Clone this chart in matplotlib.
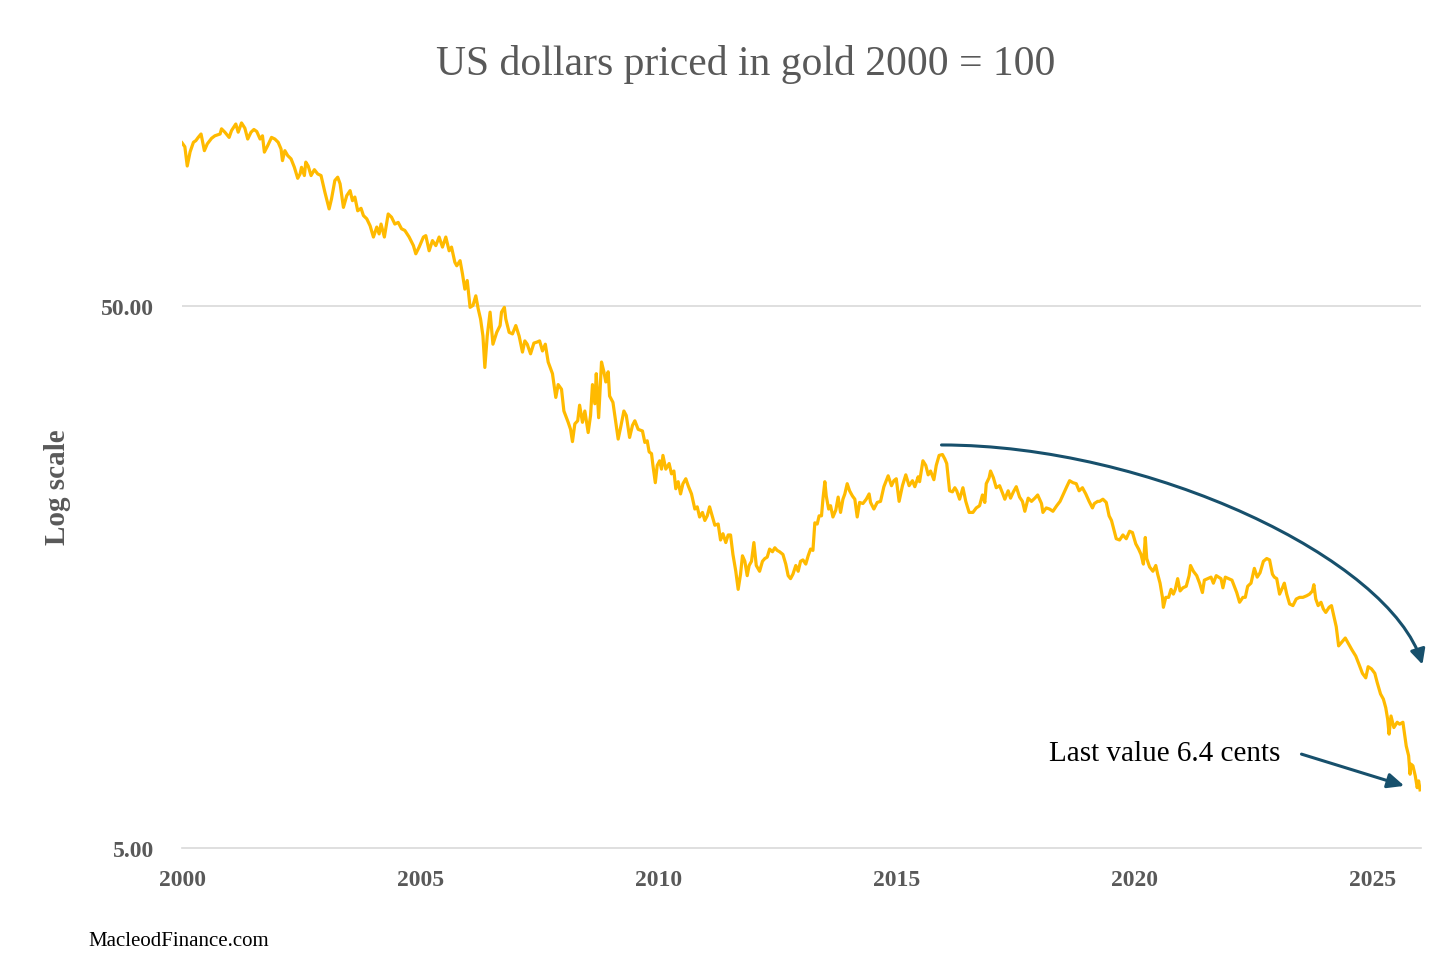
import matplotlib
matplotlib.use("Agg")
import matplotlib.pyplot as plt
from matplotlib.path import Path
from matplotlib.patches import FancyArrowPatch
from matplotlib.ticker import FixedLocator, FixedFormatter

# ---------------- data ----------------
years = [
    2000.00, 2000.06, 2000.11, 2000.17, 2000.24, 2000.29, 2000.34, 2000.40, 2000.47, 2000.53,
    2000.62, 2000.69, 2000.80, 2000.83, 2000.90, 2000.99, 2001.04, 2001.13, 2001.18, 2001.25,
    2001.32, 2001.38, 2001.45, 2001.51, 2001.57, 2001.64, 2001.69, 2001.73, 2001.80, 2001.88,
    2001.95, 2002.02, 2002.08, 2002.11, 2002.16, 2002.22, 2002.29, 2002.36, 2002.43, 2002.48,
    2002.51, 2002.57, 2002.60, 2002.65, 2002.71, 2002.78, 2002.85, 2002.92, 2003.00, 2003.09,
    2003.14, 2003.21, 2003.27, 2003.32, 2003.39, 2003.46, 2003.53, 2003.58, 2003.63, 2003.69,
    2003.76, 2003.81, 2003.88, 2003.95, 2004.02, 2004.09, 2004.14, 2004.18, 2004.25, 2004.33,
    2004.40, 2004.47, 2004.54, 2004.61, 2004.68, 2004.77, 2004.86, 2004.91, 2004.98, 2005.07,
    2005.12, 2005.19, 2005.26, 2005.33, 2005.40, 2005.47, 2005.54, 2005.61, 2005.66, 2005.73,
    2005.77, 2005.84, 2005.89, 2005.94, 2005.99, 2006.05, 2006.11, 2006.17, 2006.22, 2006.27,
    2006.32, 2006.36, 2006.41, 2006.47, 2006.53, 2006.61, 2006.68, 2006.71, 2006.77, 2006.80,
    2006.87, 2006.94, 2007.01, 2007.08, 2007.15, 2007.20, 2007.25, 2007.32, 2007.39, 2007.46,
    2007.51, 2007.57, 2007.63, 2007.69, 2007.78, 2007.85, 2007.90, 2007.97, 2008.02, 2008.11,
    2008.16, 2008.20, 2008.25, 2008.31, 2008.35, 2008.41, 2008.46, 2008.53, 2008.58, 2008.62,
    2008.67, 2008.70, 2008.75, 2008.81, 2008.86, 2008.90, 2008.95, 2008.98, 2009.05, 2009.12,
    2009.16, 2009.21, 2009.28, 2009.33, 2009.40, 2009.46, 2009.51, 2009.58, 2009.67, 2009.72,
    2009.77, 2009.81, 2009.86, 2009.89, 2009.94, 2009.98, 2010.03, 2010.07, 2010.10, 2010.16,
    2010.23, 2010.28, 2010.33, 2010.37, 2010.42, 2010.47, 2010.52, 2010.58, 2010.63, 2010.70,
    2010.77, 2010.82, 2010.87, 2010.93, 2010.98, 2011.03, 2011.08, 2011.14, 2011.19, 2011.26,
    2011.31, 2011.36, 2011.42, 2011.47, 2011.52, 2011.57, 2011.63, 2011.68, 2011.73, 2011.77,
    2011.82, 2011.87, 2011.91, 2011.96, 2012.01, 2012.06, 2012.13, 2012.19, 2012.24, 2012.29,
    2012.34, 2012.40, 2012.45, 2012.50, 2012.55, 2012.62, 2012.68, 2012.73, 2012.78, 2012.83,
    2012.89, 2012.94, 2012.99, 2013.04, 2013.10, 2013.15, 2013.20, 2013.25, 2013.29, 2013.34,
    2013.38, 2013.43, 2013.46, 2013.50, 2013.53, 2013.58, 2013.62, 2013.67, 2013.73, 2013.78,
    2013.83, 2013.88, 2013.92, 2013.97, 2014.02, 2014.08, 2014.13, 2014.18, 2014.23, 2014.30,
    2014.37, 2014.43, 2014.46, 2014.53, 2014.60, 2014.67, 2014.74, 2014.83, 2014.90, 2014.95,
    2015.00, 2015.06, 2015.13, 2015.20, 2015.27, 2015.34, 2015.39, 2015.46, 2015.49, 2015.56,
    2015.62, 2015.67, 2015.72, 2015.79, 2015.84, 2015.90, 2015.97, 2016.02, 2016.06, 2016.12,
    2016.18, 2016.23, 2016.27, 2016.33, 2016.40, 2016.46, 2016.53, 2016.61, 2016.68, 2016.75,
    2016.81, 2016.86, 2016.89, 2016.95, 2016.98, 2017.04, 2017.10, 2017.17, 2017.23, 2017.28,
    2017.35, 2017.40, 2017.46, 2017.52, 2017.59, 2017.65, 2017.70, 2017.77, 2017.84, 2017.91,
    2017.97, 2018.05, 2018.08, 2018.15, 2018.22, 2018.29, 2018.37, 2018.44, 2018.51, 2018.58,
    2018.64, 2018.71, 2018.78, 2018.84, 2018.91, 2018.98, 2019.05, 2019.12, 2019.16, 2019.23,
    2019.27, 2019.34, 2019.41, 2019.47, 2019.52, 2019.56, 2019.62, 2019.69, 2019.76, 2019.83,
    2019.90, 2019.96, 2020.03, 2020.09, 2020.14, 2020.19, 2020.23, 2020.26, 2020.32, 2020.39,
    2020.45, 2020.49, 2020.54, 2020.59, 2020.61, 2020.66, 2020.72, 2020.77, 2020.82, 2020.86,
    2020.91, 2020.96, 2021.02, 2021.09, 2021.15, 2021.18, 2021.24, 2021.31, 2021.37, 2021.43,
    2021.47, 2021.54, 2021.61, 2021.66, 2021.72, 2021.77, 2021.82, 2021.86, 2021.91, 2021.98,
    2022.05, 2022.10, 2022.15, 2022.21, 2022.28, 2022.33, 2022.38, 2022.45, 2022.52, 2022.58,
    2022.64, 2022.71, 2022.78, 2022.84, 2022.90, 2022.94, 2022.99, 2023.05, 2023.11, 2023.15,
    2023.20, 2023.26, 2023.33, 2023.40, 2023.47, 2023.54, 2023.62, 2023.68, 2023.74, 2023.77,
    2023.81, 2023.86, 2023.92, 2023.97, 2024.02, 2024.09, 2024.14, 2024.19, 2024.24, 2024.29,
    2024.36, 2024.43, 2024.50, 2024.57, 2024.65, 2024.72, 2024.79, 2024.86, 2024.91, 2024.98,
    2025.05, 2025.10, 2025.17, 2025.23, 2025.28, 2025.32, 2025.35, 2025.39, 2025.45, 2025.52,
    2025.57, 2025.64, 2025.68, 2025.71, 2025.76, 2025.79, 2025.81, 2025.85, 2025.90, 2025.94,
    2025.97, 2026.00,
]
values = [
    100.0, 98.3, 90.6, 96.2, 100.2, 100.9, 102.3, 103.8, 96.7, 99.5,
    101.9, 103.0, 103.8, 106.1, 104.6, 102.3, 105.3, 108.3, 104.6, 108.8,
    106.4, 101.6, 104.6, 105.8, 104.9, 101.6, 103.0, 96.1, 98.8, 102.3,
    101.6, 100.2, 97.4, 92.7, 96.7, 94.7, 93.4, 90.1, 86.0, 87.6,
    90.1, 87.0, 92.1, 90.6, 87.0, 89.2, 87.6, 87.0, 81.1, 75.5,
    78.8, 85.2, 86.4, 84.0, 76.0, 79.9, 81.6, 78.2, 79.4, 74.9,
    75.7, 73.4, 72.4, 70.3, 67.0, 69.9, 67.9, 70.8, 67.0, 73.9,
    72.9, 70.8, 71.3, 69.4, 68.9, 67.0, 64.6, 62.4, 64.2, 67.0,
    67.4, 63.2, 66.0, 64.6, 67.0, 64.2, 67.0, 63.2, 64.2, 60.2,
    59.3, 60.6, 57.3, 53.7, 55.7, 49.7, 50.1, 52.2, 49.4, 47.3,
    44.0, 38.5, 44.0, 48.7, 42.5, 44.7, 46.0, 48.7, 49.7, 47.3,
    44.7, 44.4, 46.0, 44.0, 41.1, 43.1, 42.5, 40.8, 42.7, 42.9,
    43.1, 41.3, 42.5, 39.4, 37.5, 33.9, 35.8, 35.1, 32.0, 30.5,
    29.6, 28.1, 30.3, 30.7, 32.8, 30.5, 32.0, 29.2, 31.4, 35.8,
    33.0, 37.5, 31.1, 39.4, 37.8, 36.2, 37.8, 34.1, 33.2, 30.1,
    28.4, 29.8, 32.0, 31.4, 28.6, 30.1, 30.7, 29.6, 29.4, 28.0,
    28.2, 26.9, 26.7, 25.4, 23.6, 25.4, 25.9, 25.0, 26.5, 25.0,
    25.6, 24.5, 24.8, 23.0, 23.7, 22.5, 23.5, 24.0, 23.3, 22.5,
    21.1, 21.3, 20.4, 20.8, 20.1, 20.5, 21.3, 20.4, 19.7, 19.8,
    18.5, 19.0, 18.3, 18.9, 18.9, 17.4, 16.2, 15.0, 16.0, 17.3,
    16.9, 15.9, 16.6, 16.9, 18.3, 16.6, 16.2, 16.9, 17.1, 17.2,
    17.8, 17.6, 17.9, 17.7, 17.6, 17.4, 16.7, 15.9, 15.7, 16.0,
    16.6, 16.2, 16.9, 17.0, 16.7, 17.3, 17.8, 17.7, 19.9, 19.8,
    20.5, 20.5, 22.0, 23.7, 22.3, 21.1, 21.4, 20.4, 21.0, 22.2,
    20.8, 22.0, 22.5, 23.5, 22.8, 22.3, 22.0, 20.4, 21.7, 21.6,
    22.0, 22.5, 21.7, 21.1, 21.7, 21.8, 23.2, 24.3, 23.3, 23.8,
    24.0, 21.8, 23.3, 24.4, 23.3, 23.8, 23.2, 24.2, 23.7, 25.9,
    25.4, 24.4, 24.8, 23.9, 25.4, 26.5, 26.6, 26.1, 25.6, 22.8,
    22.7, 23.1, 22.8, 22.0, 23.1, 21.8, 20.8, 20.8, 21.2, 21.4,
    22.4, 21.7, 23.5, 24.1, 24.8, 24.1, 23.1, 23.3, 22.6, 22.0,
    22.8, 22.1, 22.7, 23.2, 22.2, 21.8, 20.9, 22.1, 21.8, 22.1,
    22.4, 21.6, 20.8, 21.2, 21.1, 20.9, 21.4, 21.8, 22.5, 23.2,
    23.8, 23.6, 23.5, 22.8, 23.1, 22.5, 21.8, 21.2, 21.6, 21.8,
    21.8, 22.0, 21.7, 20.5, 20.1, 19.5, 18.6, 18.5, 18.9, 18.6,
    19.2, 19.1, 18.2, 17.8, 17.4, 16.7, 18.7, 17.1, 16.5, 16.2,
    16.6, 16.0, 15.4, 14.5, 13.9, 14.5, 14.5, 15.0, 14.7, 15.0,
    15.7, 14.9, 15.1, 15.2, 15.9, 16.6, 16.2, 15.9, 15.4, 14.8,
    15.6, 15.7, 15.8, 15.4, 15.9, 15.8, 15.7, 15.1, 15.8, 15.7,
    15.6, 15.2, 14.8, 14.2, 14.5, 14.5, 15.2, 15.4, 16.4, 15.8,
    16.1, 16.9, 17.1, 17.0, 16.0, 15.8, 15.7, 14.7, 15.1, 15.4,
    14.7, 14.1, 14.0, 14.4, 14.5, 14.5, 14.6, 14.7, 14.9, 15.3,
    14.4, 14.0, 14.2, 13.8, 13.6, 13.9, 14.0, 13.4, 12.8, 11.8,
    12.0, 12.2, 11.9, 11.6, 11.3, 10.9, 10.5, 10.3, 10.8, 10.7,
    10.5, 10.1, 9.62, 9.41, 9.07, 8.64, 8.11, 8.76, 8.34, 8.53,
    8.46, 8.53, 8.05, 7.71, 7.40, 6.84, 7.14, 7.09, 6.79, 6.46,
    6.65, 6.40,
]

y_ticks = [5, 50]
y_tick_labels = ["5.00", "50.00"]
x_ticks = [2000, 2005, 2010, 2015, 2020, 2025]
x_tick_labels = ["2000", "2005", "2010", "2015", "2020", "2025"]

title = "US dollars priced in gold 2000 = 100"
y_label = "Log scale"
source = "MacleodFinance.com"
note = "Last value 6.4 cents"

# ---------------- styling ----------------
SERIF = ["Liberation Serif", "DejaVu Serif"]
GREY = "#595959"
GOLD = "#FFBA00"
ARROW = "#17506C"
GRID = "#D9D9D9"

plt.rcParams["font.family"] = SERIF

fig = plt.figure(figsize=(14.56, 9.79), dpi=100)
ax = fig.add_axes([182 / 1456, 1 - 849 / 979, (1421 - 182) / 1456, (849 - 82) / 979])

ax.plot(years, values, color=GOLD, lw=2.3, solid_joinstyle="round", zorder=3)

ax.set_yscale("log")
ax.set_ylim(5, 130)
ax.set_xlim(2000, 2026.02)

ax.yaxis.set_major_locator(FixedLocator(y_ticks))
ax.yaxis.set_major_formatter(FixedFormatter(y_tick_labels))
ax.yaxis.set_minor_locator(FixedLocator([]))
ax.set_xticks(x_ticks)
ax.set_xticklabels(x_tick_labels)

ax.tick_params(axis="y", length=0, pad=20, labelsize=17, labelcolor=GREY)
ax.tick_params(axis="x", length=0, pad=15, labelsize=17, labelcolor=GREY)
for lbl in ax.get_xticklabels() + ax.get_yticklabels():
    lbl.set_fontweight("bold")

# small tick at the start of the x axis
ax.set_xticks([2000], minor=True)
ax.tick_params(axis="x", which="minor", length=7, direction="in", color=GRID, width=1.2)

for s in ["top", "right", "left"]:
    ax.spines[s].set_visible(False)
ax.spines["bottom"].set_color(GRID)
ax.spines["bottom"].set_linewidth(1.2)

ax.axhline(50, color=GRID, lw=1.2, zorder=1)

# texts
fig.text(746 / 1456, 1 - 64 / 979, title, ha="center", va="center",
         fontsize=30, color=GREY)
fig.text(58 / 1456, 1 - 487 / 979, y_label, ha="center", va="center",
         rotation=90, fontsize=21, fontweight="bold", color=GREY)
fig.text(88 / 1456, 1 - 942 / 979, source, ha="left", va="center",
         fontsize=15, color="black")
ax.text(2023.07, 7.5, note, ha="right", va="center", fontsize=21, color="black")

# curved arrow
curve = Path(
    [(2015.95, 27.7), (2020.32, 27.7), (2025.36, 17.1), (2026.05, 10.9)],
    [Path.MOVETO, Path.CURVE4, Path.CURVE4, Path.CURVE4],
)
arr1 = FancyArrowPatch(path=curve, arrowstyle="-|>,head_length=9,head_width=4.5",
                       color=ARROW, lw=2.2, transform=ax.transData, clip_on=False,
                       shrinkA=0, shrinkB=0, zorder=4)
ax.add_patch(arr1)

# straight arrow to last value
ax.annotate("", xy=(2025.67, 6.51), xytext=(2023.51, 7.45),
            arrowprops=dict(arrowstyle="-|>,head_length=1.0,head_width=0.45",
                            color=ARROW, lw=2.2, shrinkA=0, shrinkB=0),
            annotation_clip=False, zorder=4)

fig.savefig("out.png", dpi=100, facecolor="white")
